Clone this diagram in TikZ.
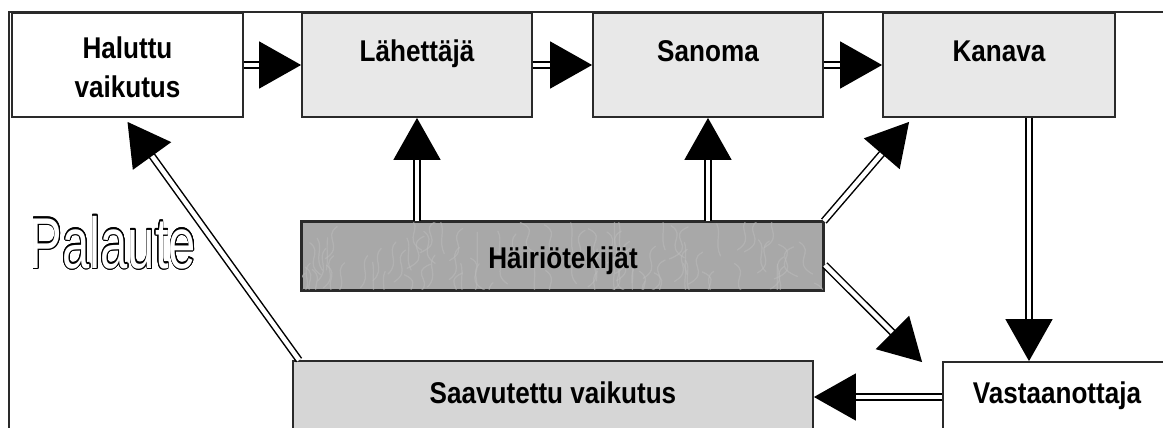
\documentclass[tikz,border=0pt]{standalone}
\usepackage{fontspec}
\setmainfont{Liberation Sans}
\usepackage{contour}
\contourlength{1.1pt}
\contournumber{24}
\usetikzlibrary{arrows.meta}
\definecolor{lightbox}{HTML}{E8E8E8}
\definecolor{midbox}{HTML}{D6D6D6}
\definecolor{noisebox}{HTML}{A8A8A8}
\definecolor{noiseline}{HTML}{BCBCBC}
\definecolor{edge}{HTML}{2A2A2A}
\newcommand{\boxfont}{\bfseries\fontsize{30}{39}\selectfont\addfontfeatures{FakeStretch=0.87}}
\begin{document}
\begin{tikzpicture}[x=1pt,y=-1pt,
  box/.style={draw=edge, line width=1.8pt, inner sep=0pt, align=center, font=\boxfont},
  topline/.style={text height=22pt, text depth=28pt},
  arr/.style={draw=black, line width=1.5pt, double=white, double distance=4.5pt,
    -{Triangle[length=42pt,width=47pt]}},
  palaute/.style={anchor=base, inner sep=0pt, font=\fontsize{72}{72}\selectfont}
]
\useasboundingbox (0,0) rectangle (1163,428);

% frame
\draw[line width=2pt, edge] (9,440) -- (9,12) -- (1170,12);

% boxes
\node[box, fill=white, minimum width=231pt, minimum height=104pt] (hv) at (127.5,65) {};
\node[anchor=north, inner sep=0pt, align=center, font=\boxfont] (hvt) at (127.5,36.5) {Haluttu\\vaikutus};
\node[box, topline, fill=lightbox, minimum width=230pt, minimum height=104pt] (l) at (417,65) {Lähettäjä};
\node[box, topline, fill=lightbox, minimum width=230pt, minimum height=104pt] (s) at (708,65) {Sanoma};
\node[box, topline, fill=lightbox, minimum width=232pt, minimum height=104pt] (k) at (999,65) {Kanava};

\node[box, fill=noisebox, minimum width=521pt, minimum height=68pt] (h) at (562.5,256) {};
\begin{scope}
  \clip (h.north west) rectangle (h.south east);
  \pgfmathsetseed{11}
  \foreach \i in {1,...,90} {
    \pgfmathsetmacro{\px}{302+rnd*521}
    \pgfmathsetmacro{\py}{215+rnd*70}
    \pgfmathsetmacro{\dx}{(rnd-0.5)*50}
    \draw[noiseline, line width=1.2pt, line cap=round, opacity=0.55]
      (\px,\py) .. controls (\px+\dx,\py+10) and (\px-\dx*0.5,\py+20) .. (\px+\dx*0.8,\py+32);
  }
\end{scope}
\draw[draw=edge, line width=1.8pt] (h.north west) rectangle (h.south east);
\node[font=\boxfont, anchor=base, inner sep=0pt] (ht) at (563,268) {Häiriötekijät};

\node[box, fill=midbox, minimum width=520pt, minimum height=72pt,
  text height=19pt, text depth=7pt] (sv) at (553,397) {Saavutettu vaikutus};
\node[box, fill=white, minimum width=228pt, minimum height=70pt,
  text height=19pt, text depth=7pt] (v) at (1057,397) {Vastaanottaja};

% Palaute
\node[palaute] (pal) at (113,268)
  {\scalebox{0.68}[1]{\contour{black}{\textcolor{white}{Palaute}}}};

% connectors
\draw[arr] (hv.east) -- (l.west);
\draw[arr] (l.east) -- (s.west);
\draw[arr] (s.east) -- (k.west);
\draw[arr] (h.north -| l.south) -- (l.south);
\draw[arr] (h.north -| s.south) -- (s.south);
\draw[arr] (h.north east) -- ([shift={(27,4)}]k.south west);
\draw[arr] ([shift={(1,9)}]h.east) -- ([shift={(-20,1)}]v.north west);
\draw[arr] ([xshift=30pt]k.south) -- ([xshift=30pt]k.south |- v.north);
\draw[arr] (v.west) -- (sv.east);
\draw[arr] ([xshift=7pt]sv.north west) -- ([shift={(0,4)}]hv.south);
\end{tikzpicture}
\end{document}
